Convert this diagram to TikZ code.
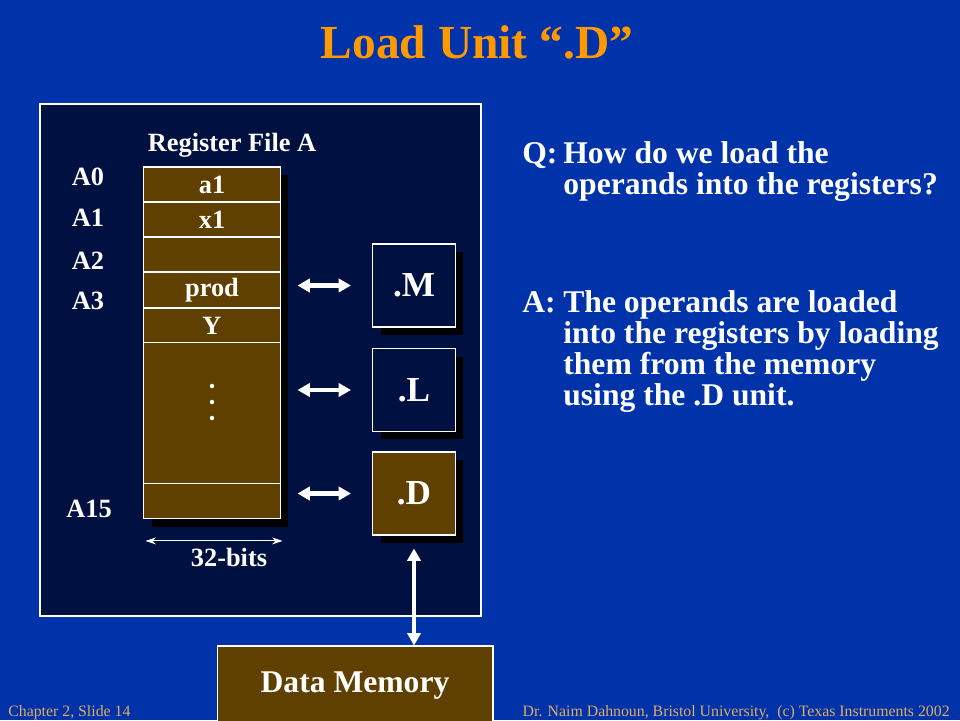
\documentclass[tikz,border=0pt]{standalone}
\usepackage{fontspec}
\setmainfont{Liberation Serif}
\usetikzlibrary{positioning,arrows.meta,shadows}
\definecolor{slideblue}{RGB}{0,51,170}
\definecolor{panelnavy}{RGB}{0,16,64}
\definecolor{regbrown}{RGB}{96,64,0}
\definecolor{titleorange}{RGB}{255,153,0}
\definecolor{footertan}{RGB}{222,172,100}
\tikzset{
	boxshadow/.style={drop shadow={shadow xshift=0.16cm, shadow yshift=-0.16cm, fill=black, opacity=1}},
	regrow/.style={draw=white, line width=0.6pt, fill=regbrown, minimum width=2.74cm, minimum height=0.7cm, inner sep=0pt, outer sep=0pt, text=white, font=\fontsize{15}{15}\selectfont\bfseries, boxshadow},
	unitbox/.style={draw=white, line width=0.6pt, minimum size=1.66cm, inner sep=0pt, text=white, font=\fontsize{20}{20}\selectfont\bfseries, boxshadow},
	reglabel/.style={text=white, font=\fontsize{15}{15}\selectfont\bfseries},
	busarrow/.style={white, line width=2.6pt, {Triangle[length=7pt,width=7.5pt]}-{Triangle[length=7pt,width=7.5pt]}},
	bodytext/.style={text=white, font=\fontsize{18}{17.6}\selectfont\bfseries, inner sep=0pt, align=left},
	footer/.style={text=footertan, font=\fontsize{9}{9}\selectfont, inner sep=0pt}
}
\begin{document}
\begin{tikzpicture}[x=0.02cm, y=-0.02cm]
	\useasboundingbox (0,0) rectangle (960,720);
	\fill[slideblue] (0,0) rectangle (960,720);
	\node[text=titleorange, font=\fontsize{27}{27}\selectfont\bfseries] (title) at (477,42) {Load Unit “.D”};

	% CPU panel
	\draw[white, line width=0.6pt, fill=panelnavy] (40,104) rectangle (481,616);
	\node[reglabel] (rfname) at (232,145) {Register File A};

	% register file
	\node[regrow] (r0) at (212,184.5) {a1};
	\node[regrow, below=0pt of r0] (r1) {x1};
	\node[regrow, below=0pt of r1] (r2) {};
	\node[regrow, below=0pt of r2, minimum height=0.72cm] (r3) {prod};
	\node[regrow, below=0pt of r3] (r4) {Y};
	\node[regrow, below=0pt of r4, minimum height=2.82cm] (rmid) {};
	\node[regrow, below=0pt of rmid] (r15) {};
	\foreach \y in {386,402,418}
		\fill[white] (212,\y) circle (0.045cm);

	\node[reglabel] (la0) at (88,177) {A0};
	\node[reglabel] (la1) at (88,218) {A1};
	\node[reglabel] (la2) at (88,261) {A2};
	\node[reglabel] (la3) at (88,301) {A3};
	\node[reglabel] (la15) at (89,509) {A15};

	\draw[white, line width=0.5pt, {Stealth[length=6pt,width=4pt,inset=2pt]}-{Stealth[length=6pt,width=4pt,inset=2pt]}] ([shift={(0.04cm,-0.44cm)}]r15.south west) coordinate (bw) -- ([shift={(0.04cm,-0.44cm)}]r15.south east) coordinate (be);
	\node[reglabel] (bits) at (229,557) {32-bits};

	% functional units
	\node[unitbox, fill=panelnavy] (M) at (414,285.5) {.M};
	\node[unitbox, fill=panelnavy] (L) at (414,390) {.L};
	\node[unitbox, fill=regbrown] (D) at (414,493.5) {.D};
	\foreach \u in {M,L,D}
		\draw[busarrow, shorten <=0.34cm, shorten >=0.42cm] (\u.west -| r0.east) -- (\u.west);

	% memory
	\node[draw=white, line width=0.6pt, fill=regbrown, minimum width=5.52cm, minimum height=1.6cm, text=white, font=\fontsize{18}{18}\selectfont\bfseries] (mem) at (355,686) {Data Memory};
	\draw[busarrow, shorten <=0.26cm] (D.south) -- (D.south |- mem.north);

	% question and answer
	\node[bodytext, anchor=base west] (q) at (522,163) {Q:};
	\node[bodytext, anchor=north west] (qtext) at (563,141) {How do we load the\\operands into the registers?};
	\node[bodytext, anchor=base west] (a) at (522,312) {A:};
	\node[bodytext, anchor=north west] (atext) at (563,290) {The operands are loaded\\into the registers by loading\\them from the memory\\using the .D unit.};

	\node[footer, anchor=base west] (chap) at (8,716) {Chapter 2, Slide 14};
	\node[footer, anchor=base east] (credit) at (950,716) {Dr. Naim Dahnoun, Bristol University,\ \ (c) Texas Instruments 2002};
\end{tikzpicture}
\end{document}
